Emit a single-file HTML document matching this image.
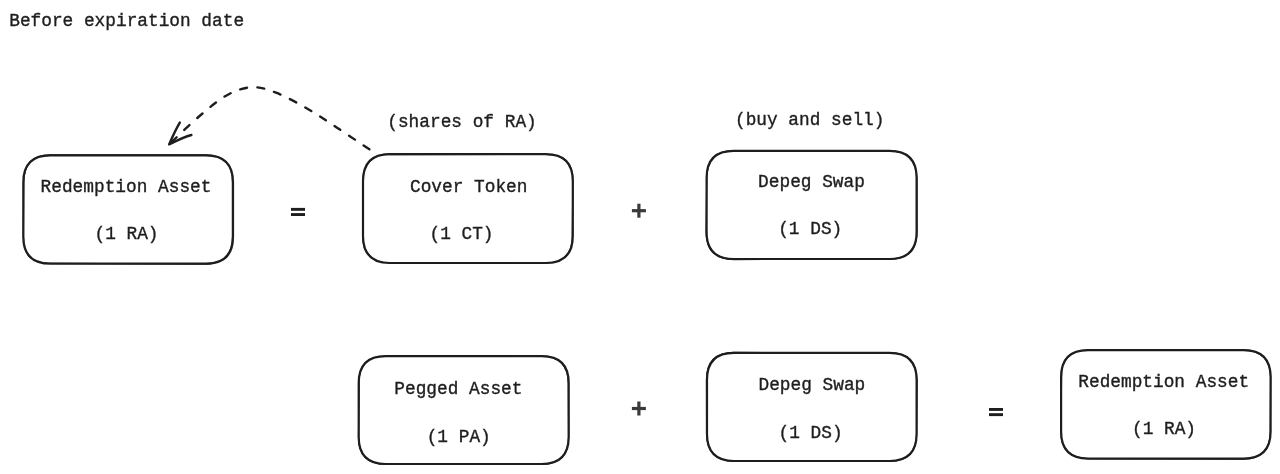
<!DOCTYPE html>
<html><head><meta charset="utf-8"><style>
html,body{margin:0;padding:0;background:#fff;width:1280px;height:474px;overflow:hidden}
svg{position:absolute;left:0;top:0}
text{font-family:"Liberation Mono",monospace;fill:#1e1e1e;stroke:#1e1e1e;stroke-width:0.35px}
svg{will-change:transform}
</style></head><body>
<svg width="1280" height="474" viewBox="0 0 1280 474">

<g fill="none" stroke="#1e1e1e" stroke-width="2.2" stroke-linecap="round" stroke-linejoin="round">
<path d="M50.3 155.4L206.0 155.4Q233.0 155.4 233.0 182.4L233.0 236.7Q233.0 263.7 206.0 263.7L50.3 263.7Q23.3 263.7 23.3 236.7L23.3 182.4Q23.3 155.4 50.3 155.4Z"/>
<path d="M390.0 154.2L545.8 154.2Q572.8 154.2 572.8 181.2L572.8 236.0Q572.8 263.0 545.8 263.0L390.0 263.0Q363.0 263.0 363.0 236.0L363.0 181.2Q363.0 154.2 390.0 154.2Z"/>
<path d="M733.6 150.8L889.6 150.8Q916.6 150.8 916.6 177.8L916.6 232.0Q916.6 259.0 889.6 259.0L733.6 259.0Q706.6 259.0 706.6 232.0L706.6 177.8Q706.6 150.8 733.6 150.8Z"/>
<path d="M385.7 356.2L541.7 356.2Q568.7 356.2 568.7 383.2L568.7 437.0Q568.7 464.0 541.7 464.0L385.7 464.0Q358.7 464.0 358.7 437.0L358.7 383.2Q358.7 356.2 385.7 356.2Z"/>
<path d="M734.0 352.8L889.6 352.8Q916.6 352.8 916.6 379.8L916.6 434.0Q916.6 461.0 889.6 461.0L734.0 461.0Q707.0 461.0 707.0 434.0L707.0 379.8Q707.0 352.8 734.0 352.8Z"/>
<path d="M1088.1 350.2L1243.6 350.2Q1270.6 350.2 1270.6 377.2L1270.6 431.6Q1270.6 458.6 1243.6 458.6L1088.1 458.6Q1061.1 458.6 1061.1 431.6L1061.1 377.2Q1061.1 350.2 1088.1 350.2Z"/>
</g>
<g fill="none" stroke="#1e1e1e" stroke-width="1.3" stroke-linecap="round" stroke-linejoin="round">
<path d="M50.1 155.0L206.2 154.9Q233.0 155.3 232.5 182.4L232.5 236.6Q232.5 263.2 205.9 264.1L49.9 263.4Q23.4 264.2 23.4 236.6L23.8 181.9Q23.7 155.2 49.9 155.0"/>
<path d="M389.8 154.5L545.4 154.3Q573.0 154.1 572.9 180.7L572.3 235.7Q573.0 262.9 545.6 263.1L389.9 262.8Q363.3 263.2 362.7 236.1L363.0 181.6Q363.3 154.0 390.5 153.8"/>
<path d="M733.5 151.1L889.2 150.8Q916.1 151.0 916.9 177.9L917.0 231.8Q916.8 259.1 889.7 259.0L734.0 259.5Q706.6 259.2 706.1 232.2L706.8 178.3Q707.0 150.6 733.5 151.0"/>
<path d="M385.2 356.2L541.3 355.8Q568.2 356.5 568.3 382.9L568.6 437.4Q568.2 463.9 541.8 464.4L386.1 464.4Q358.5 463.9 358.5 437.4L359.2 382.8Q358.3 355.9 385.4 356.2"/>
<path d="M734.1 352.5L889.1 352.7Q916.5 352.9 917.1 380.0L916.6 434.1Q916.8 460.5 890.0 461.3L734.4 461.3Q706.9 460.9 706.6 434.1L706.5 379.3Q706.7 352.4 733.8 352.3"/>
<path d="M1087.6 349.8L1243.2 350.0Q1270.1 350.6 1270.7 376.8L1270.3 431.4Q1270.5 458.2 1244.0 459.1L1088.1 458.6Q1060.6 458.2 1060.9 431.3L1061.5 376.8Q1060.6 350.7 1088.1 349.8"/>
</g>
<text transform="translate(9.2,26.2) scale(1,1.08)" font-size="17.8">Before expiration date</text>
<text transform="translate(126,191.5) scale(1,1.08)" font-size="17.8" text-anchor="middle">Redemption Asset</text>
<text transform="translate(126.5,239.0) scale(1,1.08)" font-size="17.8" text-anchor="middle">(1 RA)</text>
<text transform="translate(468.7,191.5) scale(1,1.08)" font-size="17.8" text-anchor="middle">Cover Token</text>
<text transform="translate(461.5,239.0) scale(1,1.08)" font-size="17.8" text-anchor="middle">(1 CT)</text>
<text transform="translate(462,127.4) scale(1,1.08)" font-size="17.8" text-anchor="middle">(shares of RA)</text>
<text transform="translate(811.5,187.0) scale(1,1.08)" font-size="17.8" text-anchor="middle">Depeg Swap</text>
<text transform="translate(810.2,233.5) scale(1,1.08)" font-size="17.8" text-anchor="middle">(1 DS)</text>
<text transform="translate(809.7,124.7) scale(1,1.08)" font-size="17.8" text-anchor="middle">(buy and sell)</text>
<text transform="translate(458.4,394.3) scale(1,1.08)" font-size="17.8" text-anchor="middle">Pegged Asset</text>
<text transform="translate(458.7,441.7) scale(1,1.08)" font-size="17.8" text-anchor="middle">(1 PA)</text>
<text transform="translate(811.9,389.5) scale(1,1.08)" font-size="17.8" text-anchor="middle">Depeg Swap</text>
<text transform="translate(810.6,437.9) scale(1,1.08)" font-size="17.8" text-anchor="middle">(1 DS)</text>
<text transform="translate(1163.7,386.8) scale(1,1.08)" font-size="17.8" text-anchor="middle">Redemption Asset</text>
<text transform="translate(1164,433.9) scale(1,1.08)" font-size="17.8" text-anchor="middle">(1 RA)</text>
<rect x="291" y="207.9" width="14" height="2.9" fill="#1e1e1e"/><rect x="291" y="213.1" width="14" height="2.9" fill="#1e1e1e"/>
<rect x="989" y="408" width="14" height="2.9" fill="#1e1e1e"/><rect x="989" y="413.2" width="14" height="2.9" fill="#1e1e1e"/>
<rect x="631.9" y="209.1" width="14" height="3.2" fill="#3a3a3a"/><rect x="637.3" y="203.7" width="3.2" height="14" fill="#3a3a3a"/>
<rect x="631.9" y="406.9" width="14" height="3.2" fill="#3a3a3a"/><rect x="637.3" y="401.5" width="3.2" height="14" fill="#3a3a3a"/>
<path d="M369.4 149.3C363.9 145.7 347.0 134.2 336.6 127.4C326.2 120.6 317.1 114.3 307.0 108.5C296.9 102.7 285.2 96.2 276.0 92.7C266.8 89.2 260.2 86.8 252.0 87.2C243.8 87.6 235.7 90.3 226.9 95.2C218.1 100.1 208.6 108.3 199.0 116.5C189.4 124.7 174.2 139.7 169.2 144.3" fill="none" stroke="#1e1e1e" stroke-width="2.4" stroke-dasharray="7 10.4" stroke-linecap="round"/>
<path d="M179.8 122.6Q175.2 130.4 169.1 144.4Q184 136.9 191.4 135" fill="none" stroke="#1e1e1e" stroke-width="2.4" stroke-linecap="round" stroke-linejoin="round"/>
</svg></body></html>
